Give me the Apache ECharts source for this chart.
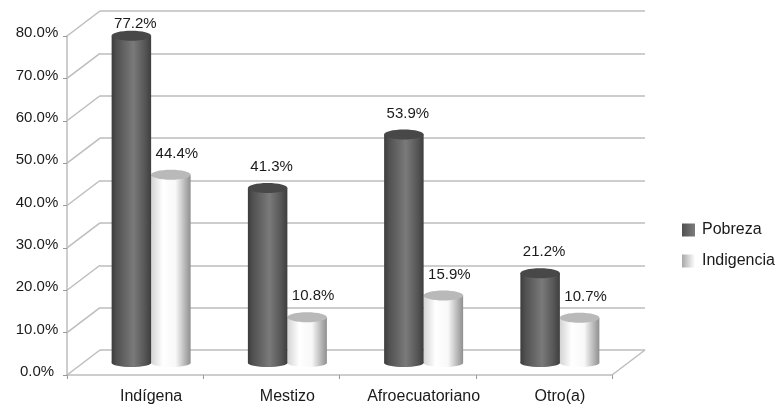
<!DOCTYPE html>
<html>
<head>
<meta charset="utf-8">
<style>html,body{margin:0;padding:0;background:#fff}#chart{width:778px;height:408px}</style>
<script src="https://cdn.jsdelivr.net/npm/echarts@6/dist/echarts.min.js"></script>
</head>
<body>
<div id="chart"></div>
<script>
const categories = ['Indígena', 'Mestizo', 'Afroecuatoriano', 'Otro(a)'];
const pobreza = [77.2, 41.3, 53.9, 21.2];
const indigencia = [44.4, 10.8, 15.9, 10.7];
const wallTicks = [0, 10, 20, 30, 40, 50, 60, 70, 80];

const FONT = '"Liberation Sans", Arial, sans-serif';
const WALL = '#bdbdbd';
const DEPTH_X = 33, DEPTH_Y = -25;
const BAR_W = 39.5, CAP_RY = 5;

const G = echarts.graphic;
const darkFill = new G.LinearGradient(0, 0, 1, 0, [
  { offset: 0, color: '#3c3c3c' }, { offset: 0.12, color: '#505050' },
  { offset: 0.55, color: '#7a7a7a' }, { offset: 0.85, color: '#555555' },
  { offset: 1, color: '#3e3e3e' }
]);
const lightFill = new G.LinearGradient(0, 0, 1, 0, [
  { offset: 0, color: '#d4d4d4' }, { offset: 0.3, color: '#ffffff' },
  { offset: 0.62, color: '#f8f8f8' }, { offset: 0.88, color: '#b0b0b0' },
  { offset: 1, color: '#8f8f8f' }
]);
const legendDark = new G.LinearGradient(0, 0, 1, 0, [
  { offset: 0, color: '#505050' }, { offset: 1, color: '#7c7c7c' }
]);
const legendLight = new G.LinearGradient(0, 0, 1, 0, [
  { offset: 0, color: '#a8a8a8' }, { offset: 1, color: '#ffffff' }
]);

// Cylinder for one value, sitting to the left or right of the category centre.
function cylinder(side, fill, capColor, labelShift) {
  return function (params, api) {
    const i = api.value(0), v = api.value(1);
    const base = api.coord([i, 0]);
    const top = api.coord([i, v]);
    const x0 = base[0] + (side < 0 ? -BAR_W : 0);
    const cx = x0 + BAR_W / 2;
    const rx = BAR_W / 2;
    const label = v.toFixed(1) + '%';
    return {
      type: 'group',
      children: [
        { type: 'ellipse', shape: { cx, cy: base[1], rx, ry: CAP_RY - 1 }, style: { fill } },
        { type: 'rect', shape: { x: x0, y: top[1], width: BAR_W, height: base[1] - top[1] }, style: { fill } },
        { type: 'ellipse', shape: { cx, cy: top[1], rx, ry: CAP_RY }, style: { fill: capColor } },
        {
          type: 'text',
          style: {
            text: label,
            x: cx + labelShift,
            y: Math.max(24, top[1] - 21),
            fill: '#1a1a1a', font: '15px ' + FONT,
            align: 'center', verticalAlign: 'middle'
          }
        }
      ]
    };
  };
}

// Side wall and right floor edge run from the front plane back to the rear wall.
function depthLines(params, api) {
  const v = api.value(0);
  const left = api.coord([0, v]);
  const plotLeft = params.coordSys.x;
  const plotRight = params.coordSys.x + params.coordSys.width;
  const children = [{
    type: 'line',
    shape: { x1: plotLeft, y1: left[1], x2: plotLeft + DEPTH_X, y2: left[1] + DEPTH_Y },
    style: { stroke: WALL, lineWidth: 1.5 }
  }];
  if (v === 0) {
    children.push({
      type: 'line',
      shape: { x1: plotRight, y1: left[1], x2: plotRight + DEPTH_X, y2: left[1] + DEPTH_Y },
      style: { stroke: WALL, lineWidth: 1.5 }
    });
  }
  return { type: 'group', children };
}

const hiddenParts = { axisLine: { show: false }, axisTick: { show: false }, axisLabel: { show: false } };
const yRange = { type: 'value', min: 0, max: 80, interval: 10 };
const chart = echarts.init(document.getElementById('chart'), null, { renderer: 'canvas' });
chart.setOption({
  animation: false,
  backgroundColor: '#ffffff',
  legend: {
    orient: 'vertical', left: 682, top: 222,
    padding: 0,
    itemWidth: 13, itemHeight: 13, itemGap: 15,
    icon: 'rect',
    selectedMode: false,
    textStyle: { fontFamily: FONT, fontSize: 16, color: '#1a1a1a', padding: [0, 0, 0, 2] },
    data: ['Pobreza', 'Indigencia']
  },
  grid: [
    // front plane: value axis line, ticks and floor edge
    { left: 67, top: 36, width: 545, height: 339 },
    // rear wall: horizontal rules
    { left: 100, top: 11, width: 545, height: 339 },
    // mid plane: cylinders and category names
    { left: 83, top: 24, width: 545, height: 339 },
    // percentage labels, which sit a little above their ticks
    { left: 67, top: 33, width: 545, height: 339 }
  ],
  xAxis: [
    {
      gridIndex: 0, type: 'category', data: categories,
      axisLine: { lineStyle: { color: WALL, width: 1.5 } },
      axisTick: { show: true, length: 4, lineStyle: { color: '#999999' } },
      axisLabel: { show: false }
    },
    Object.assign({ gridIndex: 1, type: 'category', data: categories }, hiddenParts),
    {
      gridIndex: 2, type: 'category', data: categories,
      axisLine: { show: false }, axisTick: { show: false },
      axisLabel: { margin: 26, fontFamily: FONT, fontSize: 16, color: '#1a1a1a', interval: 0 }
    },
    Object.assign({ gridIndex: 3, type: 'category', data: categories }, hiddenParts)
  ],
  yAxis: [
    Object.assign({}, yRange, {
      gridIndex: 0,
      axisLine: { show: true, lineStyle: { color: WALL, width: 1.5 } },
      axisTick: { show: true, length: 4, lineStyle: { color: '#999999' } },
      axisLabel: { show: false },
      splitLine: { show: false }
    }),
    Object.assign({}, yRange, hiddenParts, {
      gridIndex: 1,
      splitLine: { show: true, lineStyle: { color: WALL, width: 1.5 } }
    }),
    Object.assign({}, yRange, hiddenParts, {
      gridIndex: 2,
      splitLine: { show: false }
    }),
    Object.assign({}, yRange, {
      gridIndex: 3,
      axisLine: { show: false }, axisTick: { show: false },
      splitLine: { show: false },
      axisLabel: {
        formatter: (v) => v.toFixed(1) + '%',
        align: 'center', margin: 30,
        fontFamily: FONT, fontSize: 15, color: '#1a1a1a'
      }
    })
  ],
  series: [
    {
      name: 'walls', type: 'custom', xAxisIndex: 0, yAxisIndex: 0, z: 1,
      data: wallTicks.map((v) => [v]),
      encode: { y: 0 },
      renderItem: depthLines, silent: true
    },
    {
      name: 'Indigencia', type: 'custom', xAxisIndex: 2, yAxisIndex: 2, z: 3,
      itemStyle: { color: legendLight },
      data: indigencia.map((v, i) => [i, v]),
      encode: { x: 0, y: 1 },
      renderItem: cylinder(1, lightFill, '#b9b9b9', 6)
    },
    {
      name: 'Pobreza', type: 'custom', xAxisIndex: 2, yAxisIndex: 2, z: 4,
      itemStyle: { color: legendDark },
      data: pobreza.map((v, i) => [i, v]),
      encode: { x: 0, y: 1 },
      renderItem: cylinder(-1, darkFill, '#484848', 4)
    }
  ]
});
</script>
</body>
</html>
